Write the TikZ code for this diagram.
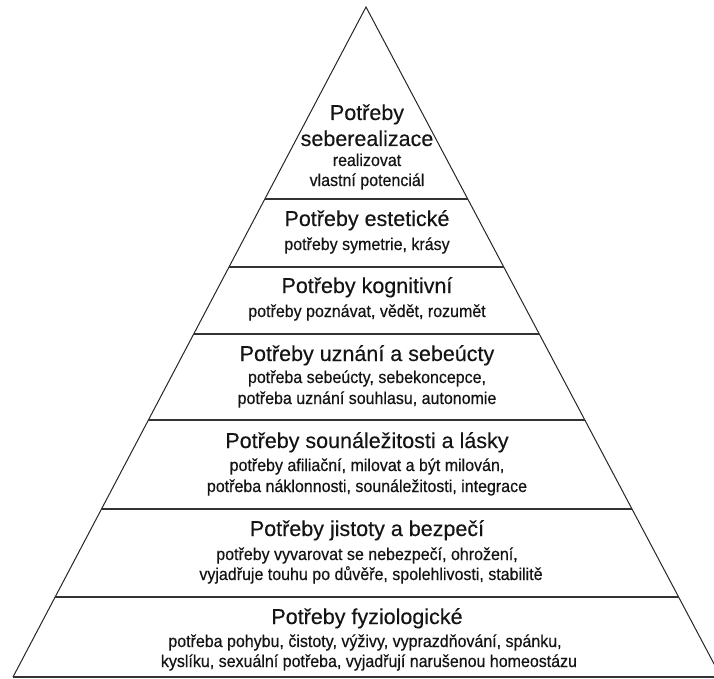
\documentclass[tikz,border=0pt]{standalone}
\usepackage{fontspec}
\setmainfont{Liberation Sans}
\newfontfamily\ttlfont[FakeBold=0.3]{Liberation Sans}
\newfontfamily\subfont[FakeBold=0.45,FakeStretch=0.93]{Liberation Sans}
\usetikzlibrary{calc}
\begin{document}
\begin{tikzpicture}[x=1pt,y=-1pt,
  edge/.style={line width=1pt, draw=black!85},
  tierline/.style={line width=1.4pt, draw=black!80},
  ttl/.style={anchor=base, font=\ttlfont\fontsize{21.5}{24}\selectfont, text=black!92, inner sep=0pt},
  sub/.style={anchor=base, font=\subfont\fontsize{17.2}{19}\selectfont, text=black!92, inner sep=0pt}]
\useasboundingbox (0,0) rectangle (714,679);
\clip (0,0) rectangle (714,679);
\coordinate (apex) at (366,7);
\coordinate (bl) at (13,677);
\coordinate (br) at (721,677);
\draw[edge] (bl) -- (apex) -- (br);
\foreach \yy/\nn in {199/a,267/b,334/c,420/d,509/e,597/f,677/g}{
  \coordinate (\nn L) at ($(apex)!{(\yy-7)/670}!(bl)$);
  \coordinate (\nn R) at ($(apex)!{(\yy-7)/670}!(br)$);
  \draw[tierline] (\nn L) -- (\nn R);
}
% level 1
\node[ttl] (t1a) at (367,120) {Potřeby};
\node[ttl] (t1b) at (367,146) {seberealizace};
\node[sub] (s1a) at (367,166) {realizovat};
\node[sub] (s1b) at (367,186) {vlastní potenciál};
% level 2
\node[ttl] (t2) at (367,226) {Potřeby estetické};
\node[sub] (s2) at (367,250) {potřeby symetrie, krásy};
% level 3
\node[ttl] (t3) at (367,293) {Potřeby kognitivní};
\node[sub] (s3) at (367,317) {potřeby poznávat, vědět, rozumět};
% level 4
\node[ttl] (t4) at (367,361) {Potřeby uznání a sebeúcty};
\node[sub] (s4a) at (367,383) {potřeba sebeúcty, sebekoncepce,};
\node[sub] (s4b) at (367,404) {potřeba uznání souhlasu, autonomie};
% level 5
\node[ttl] (t5) at (367,448) {Potřeby sounáležitosti a lásky};
\node[sub] (s5a) at (367,471) {potřeby afiliační, milovat a být milován,};
\node[sub] (s5b) at (367,492) {potřeba náklonnosti, sounáležitosti, integrace};
% level 6
\node[ttl] (t6) at (367,536) {Potřeby jistoty a bezpečí};
\node[sub] (s6a) at (367,560) {potřeby vyvarovat se nebezpečí, ohrožení,};
\node[sub] (s6b) at (371,580) {vyjadřuje touhu po důvěře, spolehlivosti, stabilitě};
% level 7
\node[ttl] (t7) at (367,624) {Potřeby fyziologické};
\node[sub] (s7a) at (365,647) {potřeba pohybu, čistoty, výživy, vyprazdňování, spánku,};
\node[sub] (s7b) at (369,667) {kyslíku, sexuální potřeba, vyjadřují narušenou homeostázu};
\end{tikzpicture}
\end{document}
